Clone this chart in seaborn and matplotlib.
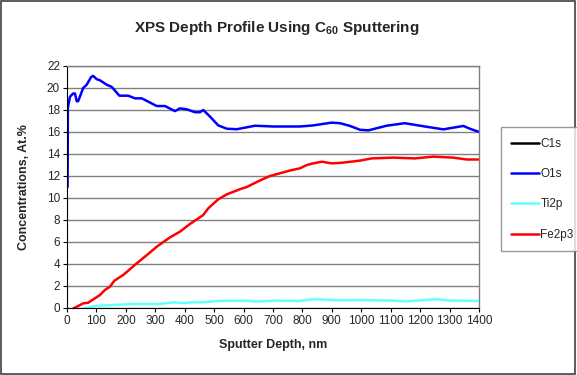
import matplotlib
matplotlib.use("Agg")
import matplotlib.pyplot as plt
import seaborn as sns
import pandas as pd
from matplotlib.lines import Line2D
from matplotlib.patches import Rectangle

# ---- data ----
o1s_x = [2, 3, 10, 21, 27, 33, 38, 55, 67, 82, 89, 101, 112, 135, 152, 178, 208, 231, 254,
         276, 305, 333, 367, 384, 407, 435, 452, 463, 486, 514, 543, 577, 639, 701, 735,
         792, 837, 899, 928, 962, 996, 1024, 1086, 1148, 1216, 1279, 1347, 1369, 1398]
o1s_y = [11.0, 18.2, 19.2, 19.5, 19.5, 18.8, 18.8, 20.0, 20.3, 21.0, 21.1, 20.8, 20.7, 20.3,
         20.1, 19.3, 19.3, 19.06, 19.06, 18.76, 18.36, 18.36, 17.9, 18.15, 18.06, 17.8, 17.8,
         18.0, 17.4, 16.6, 16.3, 16.25, 16.57, 16.5, 16.5, 16.5, 16.6, 16.85, 16.8, 16.55,
         16.2, 16.15, 16.57, 16.8, 16.5, 16.24, 16.55, 16.3, 16.03]

fe_x = [23, 27, 38, 55, 72, 112, 129, 146, 161, 191, 237, 271, 305, 350, 384, 418, 463, 480,
        514, 543, 588, 611, 656, 690, 758, 792, 815, 837, 866, 899, 933, 996, 1036, 1109,
        1182, 1245, 1313, 1358, 1398]
fe_y = [0.0, 0.03, 0.18, 0.42, 0.48, 1.18, 1.64, 1.94, 2.48, 3.0, 4.06, 4.8, 5.57, 6.42, 6.94,
        7.64, 8.45, 9.06, 9.88, 10.33, 10.8, 11.0, 11.6, 12.0, 12.5, 12.7, 13.0, 13.15, 13.3,
        13.15, 13.2, 13.4, 13.6, 13.67, 13.6, 13.76, 13.67, 13.5, 13.5]

ti_x = [61, 101, 157, 225, 316, 361, 395, 429, 452, 520, 599, 645, 713, 792, 837, 928, 1000,
        1100, 1152, 1252, 1300, 1398]
ti_y = [0.0, 0.2, 0.27, 0.36, 0.36, 0.52, 0.45, 0.52, 0.5, 0.64, 0.67, 0.58, 0.67, 0.64, 0.8,
        0.7, 0.72, 0.68, 0.6, 0.8, 0.68, 0.64]

c1s_x = []
c1s_y = []

series = ["C1s", "O1s", "Ti2p", "Fe2p3"]
colors = {"C1s": "#000000", "O1s": "#0000FF", "Ti2p": "#66FFFF", "Fe2p3": "#FF0000"}

frames = []
for name, xs, ys in [("O1s", o1s_x, o1s_y), ("Ti2p", ti_x, ti_y), ("Fe2p3", fe_x, fe_y)]:
    frames.append(pd.DataFrame({"depth": xs, "conc": ys, "element": name}))
df = pd.concat(frames, ignore_index=True)

sns.set_style("white")
plt.rcParams["font.family"] = ["Liberation Sans", "DejaVu Sans"]
plt.rcParams["mathtext.fontset"] = "custom"
plt.rcParams["mathtext.rm"] = "Liberation Sans:bold"
plt.rcParams["mathtext.bf"] = "Liberation Sans:bold"

fig = plt.figure(figsize=(5.77, 3.75), dpi=100)
ax = fig.add_axes([0.1161, 0.1787, 0.714, 0.6453])

sns.lineplot(data=df, x="depth", y="conc", hue="element", palette=colors,
             hue_order=["O1s", "Ti2p", "Fe2p3"], sort=False, estimator=None,
             linewidth=1.8, legend=False, ax=ax)
ax.plot(c1s_x, c1s_y, color=colors["C1s"], linewidth=1.8)

ax.set_xlim(0, 1400)
ax.set_ylim(0, 22)
ax.set_xticks(range(0, 1401, 100))
ax.set_yticks(range(0, 23, 2))
ax.tick_params(axis="both", labelsize=8.5, length=3, width=0.8, color="#000000",
               direction="out", pad=2)
ax.tick_params(axis="x", bottom=True)
ax.tick_params(axis="y", left=True)
ax.yaxis.grid(True, color="#808080", linewidth=1.0)
ax.xaxis.grid(False)
for side in ["top", "right"]:
    ax.spines[side].set_color("#808080")
    ax.spines[side].set_linewidth(1.0)
for side in ["left", "bottom"]:
    ax.spines[side].set_color("#000000")
    ax.spines[side].set_linewidth(0.8)
ax.set_axisbelow(True)

ax.set_xlabel("Sputter Depth, nm", fontsize=9, fontweight="bold", labelpad=9)
ax.set_ylabel("Concentrations, At.%", fontsize=9, fontweight="bold", labelpad=12)

fig.text(0.479, 0.926, r"XPS Depth Profile Using C$_{\mathrm{60}}$ Sputtering", ha="center",
         va="center", fontsize=11, fontweight="bold")

handles = [Line2D([0], [0], color=colors[s], linewidth=1.8) for s in series]
leg = fig.legend(handles, series, loc="upper left", bbox_to_anchor=(0.868, 0.661),
                 frameon=True, fancybox=False, fontsize=8.5, labelspacing=1.55,
                 handlelength=2.3, handletextpad=0.15, borderpad=0.9,
                 borderaxespad=0)
leg.get_frame().set_edgecolor("#808080")
leg.get_frame().set_linewidth(1.0)

fig.patches.append(Rectangle((0.002, 0.003), 0.995, 0.994, transform=fig.transFigure,
                             fill=False, edgecolor="#404040", linewidth=1.2))

fig.savefig("out.png", dpi=100)
